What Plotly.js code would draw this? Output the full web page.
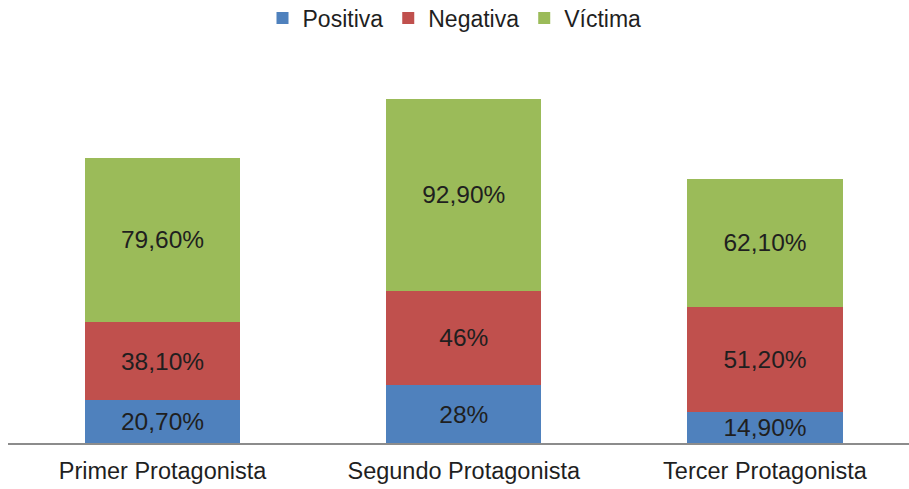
<!DOCTYPE html>
<html>
<head>
<meta charset="utf-8">
<script src="https://cdn.plot.ly/plotly-3.0.1.min.js"></script>
<style>html,body{margin:0;padding:0;background:#fff;}#chart{width:909px;height:489px;}</style>
</head>
<body>
<div id="chart"></div>
<script>
const categories = ["Primer Protagonista", "Segundo Protagonista", "Tercer Protagonista"];
const positiva = [20.7, 28, 14.9];
const negativa = [38.1, 46, 51.2];
const victima = [79.6, 92.9, 62.1];
const positivaLabels = ["20,70%", "28%", "14,90%"];
const negativaLabels = ["38,10%", "46%", "51,20%"];
const victimaLabels = ["79,60%", "92,90%", "62,10%"];

const font = "Liberation Sans, Arial, sans-serif";
const txt = {family: font, size: 24.5, color: "#1f1f1f"};

function trace(name, y, labels, color) {
  return {
    type: "bar", name: name, x: categories, y: y, text: labels,
    textposition: "inside", insidetextanchor: "middle", textangle: 0,
    constraintext: "none", insidetextfont: txt, textfont: txt,
    marker: {color: color, line: {width: 0}},
    hoverinfo: "skip"
  };
}

const data = [
  trace("Positiva", positiva, positivaLabels, "#4F81BD"),
  trace("Negativa", negativa, negativaLabels, "#C0504D"),
  trace("Víctima", victima, victimaLabels, "#9BBB59")
];

const layout = {
  width: 909, height: 489,
  barmode: "stack", bargap: 0.485,
  margin: {l: 8, r: 0, t: 60, b: 46, autoexpand: false},
  paper_bgcolor: "#fff", plot_bgcolor: "#fff",
  font: {family: font, color: "#1f1f1f"},
  showlegend: true,
  legend: {orientation: "h", x: 0.5, xanchor: "center", xref: "container",
    y: 0.963, yanchor: "middle", yref: "container",
    font: {family: font, size: 23, color: "#1f1f1f"}, traceorder: "normal"},
  xaxis: {type: "category", range: [-0.513, 2.478], showgrid: false, zeroline: false,
    showline: true, linecolor: "#8c8c8c", linewidth: 2, ticks: "",
    ticklabelstandoff: 6,
    tickfont: {family: font, size: 23.5, color: "#1f1f1f"}, fixedrange: true},
  yaxis: {visible: false, range: [0, 185.9], fixedrange: true}
};

Plotly.newPlot("chart", data, layout, {displayModeBar: false, staticPlot: true});
</script>
</body>
</html>
